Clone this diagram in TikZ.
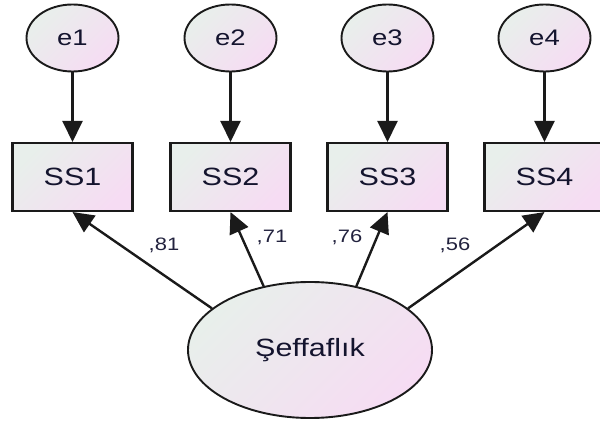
\documentclass[tikz,border=0pt]{standalone}
\usepackage{fontspec}
\setmainfont{Liberation Sans}[FakeStretch=1.22]
\usetikzlibrary{arrows.meta,shapes.geometric}
\definecolor{gA}{HTML}{E8EFEB}
\definecolor{gB}{HTML}{F6DCF3}
\definecolor{txt}{HTML}{14142E}
\definecolor{num}{HTML}{22223E}
\definecolor{bord}{HTML}{1A1A1A}
\tikzset{
  shade/.style={top color=gA, bottom color=gB, shading angle=45},
  errnode/.style={ellipse, draw=bord, line width=1.9pt, shade, minimum width=92pt, minimum height=67pt, inner sep=0pt, text=txt, font=\fontsize{22.5}{26}\selectfont},
  obsnode/.style={rectangle, draw=bord, line width=2.1pt, shade, minimum width=120pt, minimum height=68pt, inner sep=0pt, text=txt, font=\fontsize{25}{28}\selectfont},
  latnode/.style={ellipse, draw=bord, line width=1.9pt, shade, minimum width=244pt, minimum height=136pt, inner sep=0pt, text=txt, font=\fontsize{25}{28}\selectfont},
  path/.style={draw=bord, line width=2.4pt, -{Triangle[length=21pt,width=20pt]}},
  coef/.style={text=num, font=\fontsize{18}{20}\selectfont, inner sep=0pt}
}
\begin{document}
\begin{tikzpicture}[x=1pt,y=1pt]
\useasboundingbox (0,0) rectangle (600,426);
\fill[white] (0,0) rectangle (600,426);
\node[errnode] (e1) at (72.5,388) {e1};
\node[errnode] (e2) at (230.5,388) {e2};
\node[errnode] (e3) at (387.5,388) {e3};
\node[errnode] (e4) at (544.5,388) {e4};
\node[obsnode] (s1) at (72.5,249) {SS1};
\node[obsnode] (s2) at (230.5,249) {SS2};
\node[obsnode] (s3) at (387.5,249) {SS3};
\node[obsnode] (s4) at (544.5,249) {SS4};
\node[latnode] (F) at (310,76) {Şeffaflık};
\draw[path] (e1.south) -- (s1.north);
\draw[path] (e2.south) -- (s2.north);
\draw[path] (e3.south) -- (s3.north);
\draw[path] (e4.south) -- (s4.north);
\draw[path] (F.157) -- (s1.south);
\draw[path] (F.126) -- (s2.south);
\draw[path] (F.54) -- (s3.south);
\draw[path] (F.23) -- (s4.south);
\node[coef] (c1) at (164,181) {,81};
\node[coef] (c2) at (272,189) {,71};
\node[coef] (c3) at (347,189) {,76};
\node[coef] (c4) at (455,181) {,56};
\end{tikzpicture}
\end{document}
